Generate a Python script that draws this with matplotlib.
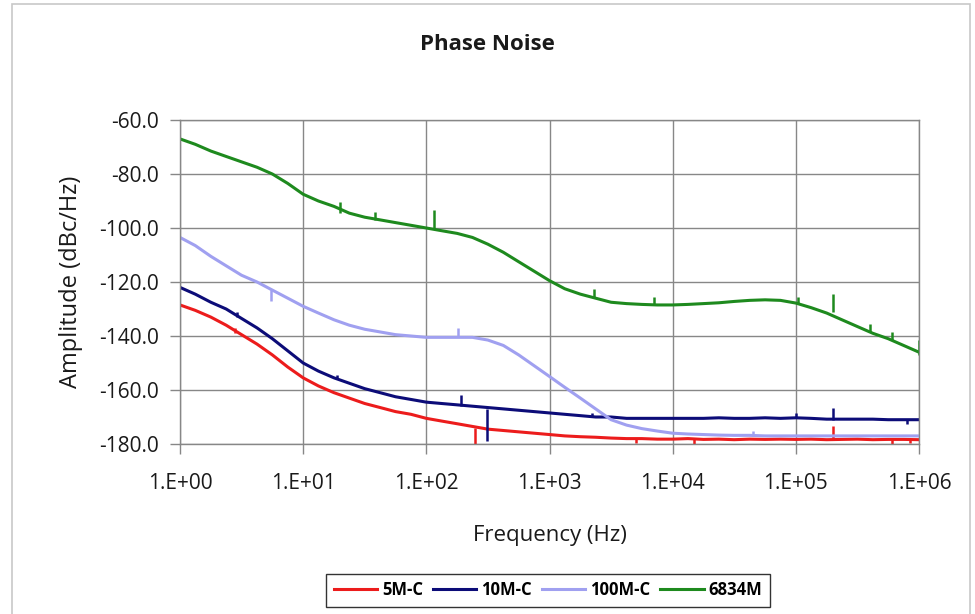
import numpy as np
import matplotlib.pyplot as plt
from matplotlib.patches import Rectangle
from matplotlib.ticker import FixedLocator, FuncFormatter, NullLocator

default_font = "Open Sans"

# sample frequencies (Hz), 8 points per decade
freq = [1, 1.33, 1.78, 2.37, 3.16, 4.22, 5.62, 7.5,
        10, 13.3, 17.8, 23.7, 31.6, 42.2, 56.2, 75,
        100, 133, 178, 237, 316, 422, 562, 750,
        1e3, 1.33e3, 1.78e3, 2.37e3, 3.16e3, 4.22e3, 5.62e3, 7.5e3,
        1e4, 1.33e4, 1.78e4, 2.37e4, 3.16e4, 4.22e4, 5.62e4, 7.5e4,
        1e5, 1.33e5, 1.78e5, 2.37e5, 3.16e5, 4.22e5, 5.62e5, 7.5e5,
        1e6]

# phase noise (dBc/Hz) per series
pn_5m = [-128.5, -130.5, -133, -136, -139.5, -143, -147, -151.5,
         -155.5, -158.5, -161, -163, -165, -166.5, -168, -169,
         -170.5, -171.5, -172.5, -173.5, -174.5, -175, -175.5, -176,
         -176.5, -177, -177.3, -177.5, -177.8, -178, -178, -178.2,
         -178.2, -178, -178.3, -178.2, -178.4, -178.2, -178.3, -178.2,
         -178.3, -178.2, -178.4, -178.3, -178.2, -178.4, -178.3, -178.3,
         -178.4]
pn_10m = [-122, -124.5, -127.5, -130, -133.5, -137, -141, -145.5,
          -150, -153, -155.5, -157.5, -159.5, -161, -162.5, -163.5,
          -164.5, -165, -165.5, -166, -166.5, -167, -167.5, -168,
          -168.5, -169, -169.5, -170, -170, -170.5, -170.5, -170.5,
          -170.5, -170.5, -170.5, -170.3, -170.5, -170.5, -170.3, -170.5,
          -170.3, -170.5, -170.8, -170.8, -170.8, -170.8, -171, -171,
          -171]
pn_100m = [-103.5, -106.5, -110.5, -114, -117.5, -120, -123, -126,
           -129, -131.5, -134, -136, -137.5, -138.5, -139.5, -140,
           -140.5, -140.5, -140.5, -140.5, -141.5, -143.5, -147, -151,
           -155, -159, -163, -167, -171, -173, -174.3, -175.2,
           -176, -176.3, -176.5, -176.7, -176.8, -176.8, -177, -177,
           -177, -177, -177, -177, -177, -177, -177, -177,
           -177]
pn_6834m = [-67, -69, -71.5, -73.5, -75.5, -77.5, -80, -83.5,
            -87.5, -90, -92, -94.5, -96, -97, -98, -99,
            -100, -101, -102, -103.5, -106, -109, -112.5, -116,
            -119.5, -122.5, -124.5, -126, -127.5, -128, -128.3, -128.5,
            -128.5, -128.3, -128, -127.7, -127.2, -126.8, -126.6, -126.8,
            -127.8, -129.5, -131.5, -134, -136.5, -139, -141, -143.5,
            -146]

# spurs: (frequency, base, peak)
spur_5m = [(2.8, -139, -137), (250, -174, -180), (1.5e4, -178, -180),
           (5e3, -178, -179.5), (2e5, -178, -173.5), (6e5, -178.3, -180),
           (8.5e5, -178.3, -179.8)]
spur_10m = [(2.9, -133, -131), (19, -156, -154.5), (190, -166, -162),
            (310, -167, -179), (2.2e3, -170, -168.5), (1e5, -170.5, -168.5),
            (2e5, -171, -166.5), (8e5, -171, -172.5)]
spur_100m = [(5.5, -123, -127), (180, -140.5, -137), (4.5e4, -176.8, -175)]
spur_6834m = [(20, -94.5, -90.5), (38, -97, -94), (115, -100.5, -93.5),
              (2300, -126, -122.5), (7000, -128.5, -125.5),
              (1.05e5, -128, -125.5), (2e5, -131, -124.5),
              (4e5, -138.5, -135.5), (6e5, -141.5, -138.5),
              (1e6, -147, -141.5)]

labels = ["5M-C", "10M-C", "100M-C", "6834M"]
colors = ["#ec1c1c", "#0c0c78", "#a0a0f0", "#1e8a1e"]
series = [pn_5m, pn_10m, pn_100m, pn_6834m]
spurs = [spur_5m, spur_10m, spur_100m, spur_6834m]

xticks = [1, 1e1, 1e2, 1e3, 1e4, 1e5, 1e6]
yticks = [-180, -160, -140, -120, -100, -80, -60]

plt.rcParams["font.family"] = [default_font, "DejaVu Sans"]

fig = plt.figure(figsize=(9.75, 6.14), dpi=100)
ax = fig.add_axes([180 / 975, 1 - 444 / 614, 739 / 975, 324 / 614])

# outer chart border
fig.patches.append(Rectangle((12 / 975, -0.05), 958 / 975, 1.05 - 4 / 614,
                             transform=fig.transFigure, fill=False,
                             edgecolor="#c8c8c8", linewidth=1.2))

for vals, sp, lab, col in zip(series, spurs, labels, colors):
    ax.plot(freq, vals, color=col, linewidth=2.2, label=lab)
    for f, lo, hi in sp:
        ax.vlines(f, lo, hi, color=col, linewidth=1.8)

ax.set_xscale("log")
ax.set_xlim(1, 1e6)
ax.set_ylim(-180, -60)
ax.xaxis.set_major_locator(FixedLocator(xticks))
ax.xaxis.set_minor_locator(NullLocator())
ax.yaxis.set_major_locator(FixedLocator(yticks))
ax.xaxis.set_major_formatter(
    FuncFormatter(lambda v, p: f"1.E+{int(round(np.log10(v))):02d}"))
ax.yaxis.set_major_formatter(FuncFormatter(lambda v, p: f"{v:.1f}"))

ax.grid(True, color="#878787", linewidth=1)
ax.set_axisbelow(True)
for s in ax.spines.values():
    s.set_color("#878787")
    s.set_linewidth(1)
ax.tick_params(direction="out", length=7, width=1, color="#878787",
               labelsize=15, labelcolor="#1a1a1a")
ax.tick_params(axis="x", pad=14)
ax.tick_params(axis="y", pad=8)

ax.set_xlabel("Frequency (Hz)", fontsize=16, labelpad=22, color="#1a1a1a")
ax.set_ylabel("Amplitude (dBc/Hz)", fontsize=17, labelpad=12,
              color="#1a1a1a")
fig.text(0.5, 1 - 45 / 614, "Phase Noise", ha="center", va="center",
         fontsize=16, fontweight="bold", color="#1a1a1a")

leg = fig.legend(loc="center", bbox_to_anchor=(548 / 975, 1 - 590 / 614),
                 ncol=4, frameon=True, fancybox=False, fontsize=12,
                 handlelength=2.6, columnspacing=0.6, handletextpad=0.3,
                 borderpad=0.45)
leg.get_frame().set_edgecolor("black")
leg.get_frame().set_linewidth(1)
for t in leg.get_texts():
    t.set_fontweight("bold")

fig.savefig("out.png", dpi=100)
